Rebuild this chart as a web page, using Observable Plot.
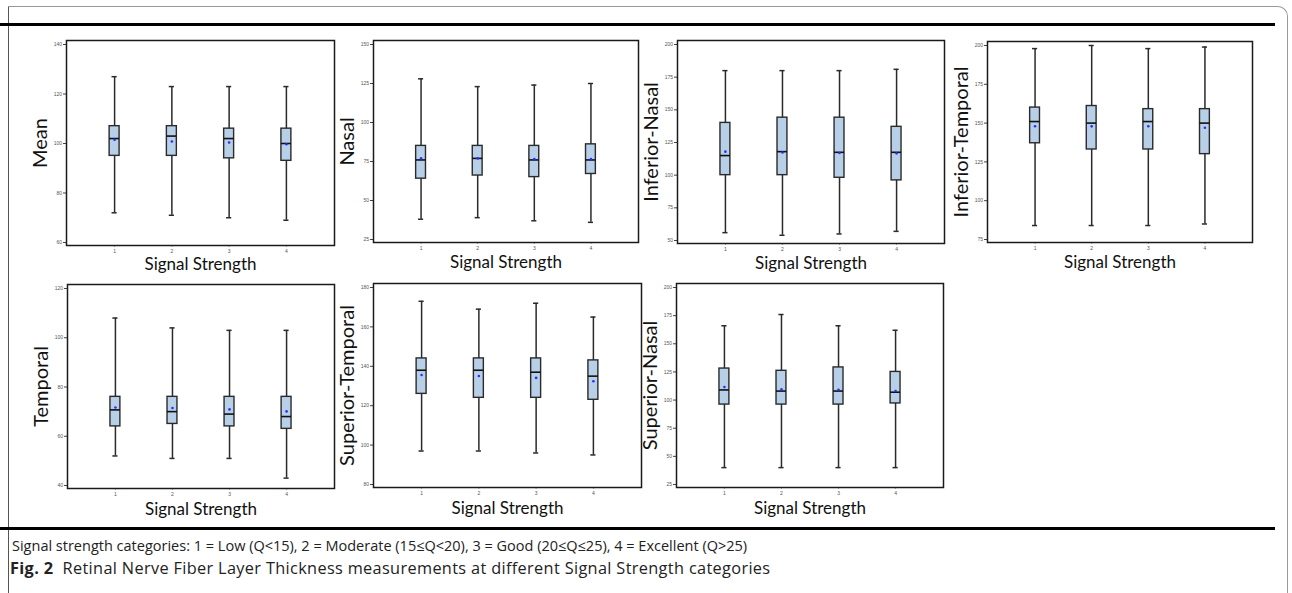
<!DOCTYPE html>
<html>
<head>
<meta charset="utf-8">
<script src="https://cdn.jsdelivr.net/npm/d3@7"></script>
<script src="https://cdn.jsdelivr.net/npm/@observablehq/plot@0.6"></script>
<style>
  html, body { margin: 0; padding: 0; background: #fff; }
  #page { position: relative; width: 1292px; height: 593px; overflow: hidden; background: #fff; }
  .panel { position: absolute; }
  .rule { position: absolute; background: #000; }
  .cap { position: absolute; font-family: "Open Sans", sans-serif; white-space: nowrap; color: #222; }
</style>
</head>
<body>
<div id="page">
  <div style="position:absolute;left:8px;top:6px;width:1278px;height:600px;border-left:1px solid #555;border-top:1px solid #999;border-right:1px solid #999;border-top-right-radius:10px;"></div>
  <div class="rule" style="left:0;top:23px;width:1275px;height:3px;"></div>
  <div class="rule" style="left:0;top:527px;width:1275px;height:3px;"></div>
  <div class="cap" style="left:12px;top:536px;font-size:14.5px;">Signal strength categories: 1 = Low (Q&lt;15), 2 = Moderate (15≤Q&lt;20), 3 = Good (20≤Q≤25), 4 = Excellent (Q&gt;25)</div>
  <div class="cap" style="left:10px;top:557px;font-size:16.3px;letter-spacing:0.35px;"><b>Fig. 2</b>&nbsp; Retinal Nerve Fiber Layer Thickness measurements at different Signal Strength categories</div>
</div>
<script>
// ---- data: per category [whiskerLow, Q1, median, Q3, whiskerHigh, mean] ----
const categories = [1, 2, 3, 4];
const xLabel = "Signal Strength";

const meanStats = [
  [72, 95, 102, 107, 127, 101.5],
  [71, 95, 103, 107, 123, 100.8],
  [70, 94, 102, 106, 123, 100.4],
  [69, 93, 100, 106, 123, 99.7]
];
const nasalStats = [
  [38, 64, 76, 85, 128, 77],
  [39, 66, 77, 85, 123, 77],
  [37, 65, 76, 85, 124, 76.5],
  [36, 67, 76, 86, 125, 76.5]
];
const inferiorNasalStats = [
  [56, 100, 115, 140, 180, 118],
  [54, 100, 118, 144, 180, 117.4],
  [55, 98, 117.5, 144, 180, 117],
  [57, 96, 117.5, 137, 181, 116.7]
];
const inferiorTemporalStats = [
  [84, 137, 151, 160, 198, 148],
  [84, 133, 150, 161, 200, 147.9],
  [84, 133, 151, 159, 198, 148],
  [85, 130, 150, 159, 199, 147]
];
const temporalStats = [
  [52, 64, 70.7, 76, 108, 71.7],
  [51, 65, 70, 76, 104, 71.5],
  [51, 64, 69, 76, 103, 70.9],
  [43, 63, 68, 76, 103, 70.1]
];
const superiorTemporalStats = [
  [97, 126, 138, 144, 173, 135.6],
  [97, 124, 138, 144, 169, 135.1],
  [96, 124, 137, 144, 172, 134.1],
  [95, 123, 135, 143, 165, 132.4]
];
const superiorNasalStats = [
  [40, 96, 109, 128, 166, 111.6],
  [40, 96, 108, 126, 176, 109.5],
  [40, 96, 108, 129, 166, 109.2],
  [40, 97, 107, 125, 162, 108]
];

// ---- tick labels ----
const meanTicks = [60, 80, 100, 120, 140];
const nasalTicks = [25, 50, 75, 100, 125, 150];
const inferiorNasalTicks = [50, 75, 100, 125, 150, 175, 200];
const inferiorTemporalTicks = [75, 100, 125, 150, 175, 200];
const temporalTicks = [40, 60, 80, 100, 120];
const superiorTemporalTicks = [80, 100, 120, 140, 160, 180];
const superiorNasalTicks = [25, 50, 75, 100, 125, 150, 175, 200];

// ---- layout (frame rectangles in page pixels) ----
const panels = [
  {label: "Mean", stats: meanStats, ticks: meanTicks, left: 66, top: 40, w: 268, h: 205, xl: 24},
  {label: "Nasal", stats: nasalStats, ticks: nasalTicks, left: 373, top: 40, w: 265, h: 202, xl: 25},
  {label: "Inferior-Nasal", stats: inferiorNasalStats, ticks: inferiorNasalTicks, left: 677, top: 40, w: 267, h: 203, xl: 25},
  {label: "Inferior-Temporal", stats: inferiorTemporalStats, ticks: inferiorTemporalTicks, left: 987, top: 41, w: 265, h: 201, xl: 25},
  {label: "Temporal", stats: temporalStats, ticks: temporalTicks, left: 67, top: 284, w: 267, h: 204, xl: 26},
  {label: "Superior-Temporal", stats: superiorTemporalStats, ticks: superiorTemporalTicks, left: 373, top: 283, w: 268, h: 204, xl: 26},
  {label: "Superior-Nasal", stats: superiorNasalStats, ticks: superiorNasalTicks, left: 676, top: 283, w: 267, h: 204, xl: 26}
];

const ML = 45, MR = 6, MT = 6, MB = 40;
const boxHalf = 0.087, capHalf = 0.045;
const page = document.getElementById("page");

for (const p of panels) {
  const rows = p.stats.map((s, i) => ({cat: categories[i], lo: s[0], q1: s[1], med: s[2], q3: s[3], hi: s[4], mean: s[5]}));
  const chart = Plot.plot({
    width: p.w + ML + MR,
    height: p.h + MT + MB,
    marginLeft: ML, marginRight: MR, marginTop: MT, marginBottom: MB,
    style: {background: "transparent", fontFamily: "'Liberation Sans', Arial, sans-serif"},
    x: {domain: [0.16, 4.84]},
    y: {domain: [d3.min(p.ticks), d3.max(p.ticks)], insetTop: 4, insetBottom: 3},
    marks: [
      Plot.axisY({ticks: p.ticks, tickFormat: d => String(d), tickSize: 3, tickPadding: 1.5, fontSize: 5, label: null, color: "#555", stroke: "#444"}),
      Plot.axisX({ticks: categories, tickFormat: d => String(d), tickSize: 2, tickPadding: 2, fontSize: 5, label: null, color: "#555", stroke: "#aaa"}),
      Plot.ruleX(rows, {x: "cat", y1: "lo", y2: "hi", stroke: "#2a2a2a", strokeWidth: 1.5}),
      Plot.ruleY(rows, {y: "lo", x1: d => d.cat - capHalf, x2: d => d.cat + capHalf, stroke: "#2a2a2a", strokeWidth: 1.5}),
      Plot.ruleY(rows, {y: "hi", x1: d => d.cat - capHalf, x2: d => d.cat + capHalf, stroke: "#2a2a2a", strokeWidth: 1.5}),
      Plot.rect(rows, {x1: d => d.cat - boxHalf, x2: d => d.cat + boxHalf, y1: "q1", y2: "q3", fill: "#b8cfe8", stroke: "#2a2a2a", strokeWidth: 1.4}),
      Plot.ruleY(rows, {y: "med", x1: d => d.cat - boxHalf, x2: d => d.cat + boxHalf, stroke: "#111", strokeWidth: 1.6}),
      Plot.dot(rows, {x: "cat", y: "mean", r: 1.3, fill: "#2b2bff", stroke: null}),
      Plot.frame({stroke: "#1a1a1a", strokeWidth: 1.5}),
      Plot.text([p.label], {frameAnchor: "left", textAnchor: "middle", rotate: -90, dx: -26, fontSize: 20, fontFamily: "Lato, sans-serif", fill: "#111"}),
      Plot.text([xLabel], {frameAnchor: "bottom", dy: p.xl, fontSize: 17, fontFamily: "Lato, sans-serif", fill: "#111"})
    ]
  });
  const wrap = document.createElement("div");
  wrap.className = "panel";
  wrap.style.left = (p.left - ML) + "px";
  wrap.style.top = (p.top - MT) + "px";
  wrap.appendChild(chart);
  page.appendChild(wrap);
}
</script>
</body>
</html>
